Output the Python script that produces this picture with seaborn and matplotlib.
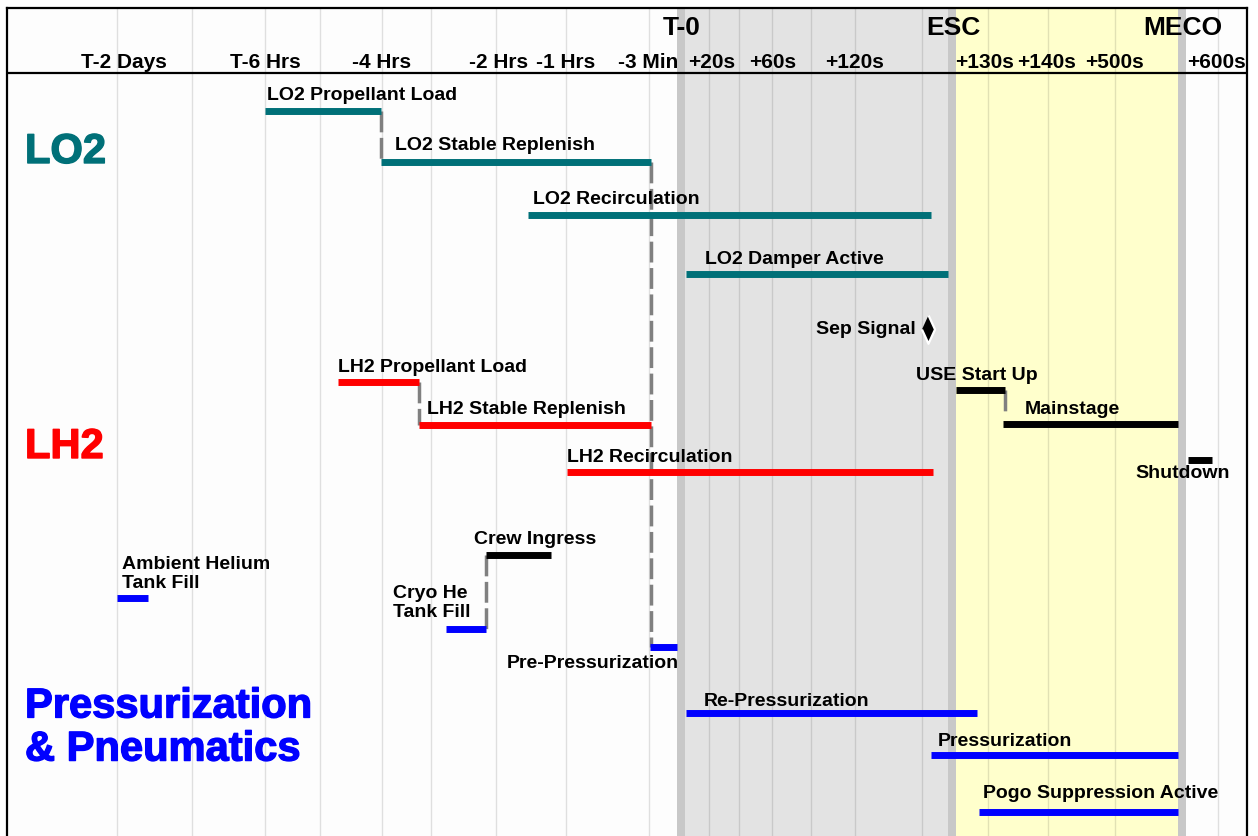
import matplotlib
matplotlib.use("Agg")
import matplotlib.pyplot as plt
import matplotlib.patheffects as pe
import seaborn as sns
import pandas as pd

# timeline header (x positions are in timeline units, 1 unit ~ 1 px of the reference)
time_labels = ['T-2 Days', 'T-6 Hrs', '-4 Hrs', '-2 Hrs', '-1 Hrs', '-3 Min', '+20s',
               '+60s', '+120s', '+130s', '+140s', '+500s', '+600s']
time_label_pos = [124, 265, 382, 499, 566, 648, 712, 773, 855, 985, 1047, 1115, 1216]
grid_pos = [117, 192, 265, 320, 382, 431, 496, 566, 649, 709, 739, 772, 811, 855,
            922, 988, 1048, 1115, 1218]

events = ['T-0', 'ESC', 'MECO']
event_start = [677, 948, 1178]
event_end = [685, 956, 1186]

# activities
tasks = ['LO2 Propellant Load', 'LO2 Stable Replenish', 'LO2 Recirculation',
         'LO2 Damper Active', 'LH2 Propellant Load', 'LH2 Stable Replenish',
         'LH2 Recirculation', 'USE Start Up', 'Mainstage', 'Shutdown', 'Crew Ingress',
         'Ambient Helium\nTank Fill', 'Cryo He\nTank Fill', 'Pre-Pressurization',
         'Re-Pressurization', 'Pressurization', 'Pogo Suppression Active']
task_group = ['LO2', 'LO2', 'LO2', 'LO2', 'LH2', 'LH2', 'LH2', 'Engine', 'Engine',
              'Engine', 'Engine', 'Press', 'Press', 'Press', 'Press', 'Press', 'Press']
task_start = [265, 381, 528, 686, 338, 419, 567, 956, 1003, 1188, 486, 117, 446, 650,
              686, 931, 979]
task_end = [381, 651, 931, 948, 419, 651, 933, 1005, 1178, 1212, 551, 148, 486, 677,
            977, 1178, 1178]
task_row = [111, 162, 215, 274, 382, 425, 472, 390, 424, 460, 555, 598, 629, 647,
            713, 755, 812]

# hand-offs between activities: (x, from row, to row)
link_x = [381, 419, 486, 651, 1005]
link_y0 = [111, 382, 555, 162, 390]
link_y1 = [162, 425, 629, 647, 412]

sep_signal_x = [928]
sep_signal_y = [329]

group_names = ['LO2', 'LH2', 'Pressurization\n& Pneumatics']
group_rows = [152, 447, 728]

colors = {'LO2': '#007078', 'LH2': '#ff0000', 'Engine': '#000000', 'Press': '#0000ff'}
group_colors = ['#007078', '#ff0000', '#0000ff']

# label placement relative to bar start
label_dx = [2, 14, 5, 19, 0, 8, 0, -40, 22, -53, -12, 5, -53, -143, 18, 7, 4]
label_dy = [-16, -16, -16, -15, -14, -16, -14, -14, -14, 13, -15, -24, -26, 16, -12, -13, -18]

sns.set_theme(style='white')
plt.rcParams['font.family'] = ['Liberation Sans', 'DejaVu Sans']
plt.rcParams['text.color'] = 'black'

fig = plt.figure(figsize=(12.58, 8.36), dpi=100)
ax = fig.add_axes([7 / 1258, 0, 1240 / 1258, 828 / 836])
ax.set_xlim(7, 1247)
ax.set_ylim(836, 8)
ax.set_facecolor('#fdfdfd')

# shaded flight phases
ax.axvspan(event_start[0], event_end[1], color='#e3e3e3', lw=0, zorder=0)
ax.axvspan(event_end[1], event_start[2], color='#ffffcc', lw=0, zorder=0)
for s, e in zip(event_start, event_end):
    ax.axvspan(s, e, color='#c8c8c8', lw=0, zorder=0.5)

ax.set_xticks(grid_pos)
ax.set_yticks([])
ax.grid(axis='x', color='k', alpha=0.13, lw=1)
ax.grid(axis='y', visible=False)
ax.tick_params(axis='x', length=0, labelbottom=False)
for side in ['top', 'left', 'right']:
    ax.spines[side].set_visible(True)
    ax.spines[side].set_color('black')
    ax.spines[side].set_linewidth(1.6)
ax.spines['bottom'].set_visible(False)
ax.axhline(73, color='black', lw=1.6, zorder=3)

for lab, pos in zip(time_labels, time_label_pos):
    ax.text(pos, 62, lab, ha='center', va='center', fontsize=15, fontweight='bold',
            color='black')
for lab, s, e in zip(events, event_start, event_end):
    ax.text((s + e) / 2 + 1, 28, lab, ha='center', va='center', fontsize=19,
            fontweight='bold', color='black')

# connectors
ax.vlines(link_x, link_y0, link_y1, colors='#808080', lw=2.5,
          linestyles=(0, (6, 1.6)), zorder=2)

# bars
bars = pd.DataFrame({
    'task': tasks * 2,
    'group': task_group * 2,
    'x': task_start + task_end,
    'y': task_row * 2,
})
sns.lineplot(data=bars, x='x', y='y', hue='task', units=None, estimator=None,
             palette={t: colors[g] for t, g in zip(tasks, task_group)},
             lw=5, solid_capstyle='butt', legend=False, sort=False, ax=ax, zorder=4)

for t, s, r, dx, dy in zip(tasks, task_start, task_row, label_dx, label_dy):
    ax.text(s + dx, r + dy, t, ha='left', va='center', fontsize=14,
            fontweight='bold', linespacing=1.15, color='black', zorder=5)

sns.scatterplot(x=sep_signal_x, y=sep_signal_y, ax=ax, color='black', s=420,
                marker=[(0, 1), (0.46, 0), (0, -1), (-0.46, 0)], zorder=5)
ax.text(sep_signal_x[0] - 12, sep_signal_y[0], 'Sep Signal', ha='right', va='center',
        fontsize=14, fontweight='bold', color='black')

# big group titles, slightly thickened
for name, row, c in zip(group_names, group_rows, group_colors):
    ax.text(25, row, name, ha='left', va='center', fontsize=30, fontweight='bold',
            color=c, linespacing=1.1,
            path_effects=[pe.withStroke(linewidth=1.0, foreground=c)])

ax.set_xlabel('')
ax.set_ylabel('')
fig.savefig('out.png', dpi=100)
